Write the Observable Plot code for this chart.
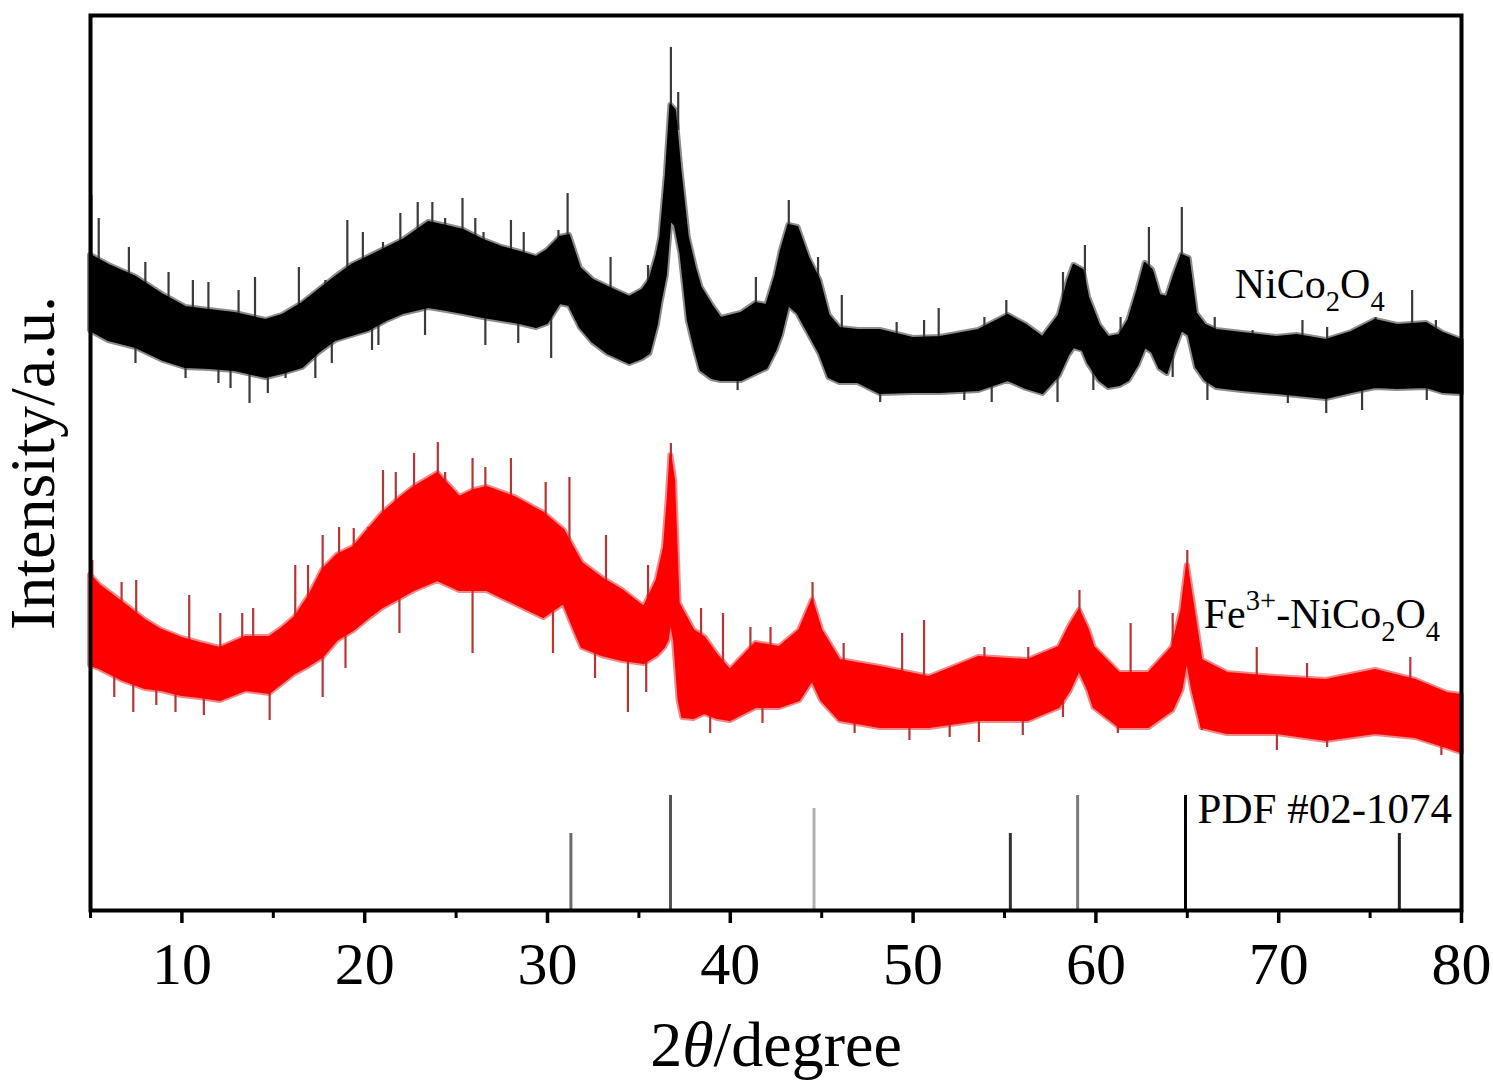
<!DOCTYPE html>
<html><head><meta charset="utf-8">
<script src="https://cdn.jsdelivr.net/npm/d3@7"></script>
<script src="https://cdn.jsdelivr.net/npm/@observablehq/plot@0.6"></script>
<style>body{margin:0;background:#fff}</style>
</head><body><div id="chart"></div>
<script>
// ---- NiCo2O4 (black) noise envelope, intensity in a.u. ----
const theta1 = [5.0,6.0,7.5,9.0,10.2,11.5,12.9,14.6,15.5,16.6,17.5,18.4,19.3,20.2,21.2,22.1,23.5,24.5,25.4,26.5,27.5,28.5,29.4,30.0,30.7,31.2,31.8,32.5,33.3,34.5,35.2,35.6,36.0,36.2,36.5,36.75,37.0,37.3,37.7,38.1,38.4,39.0,39.5,40.6,41.4,42.0,42.5,42.8,43.2,43.7,44.3,44.9,45.4,46.0,47.0,48.2,50.0,51.5,53.6,55.2,56.2,57.1,58.0,58.5,58.8,59.3,59.6,60.2,60.7,61.3,61.8,62.3,62.7,63.1,63.5,63.9,64.3,64.7,65.1,65.5,66.0,66.6,68.0,69.9,71.0,72.6,74.0,75.3,76.5,78.1,79.0,80.0];
const hi1 = [655,645,633,615,603,600,597,590,595,607,620,633,645,653,662,670,688,684,680,670,663,658,653,660,673,675,642,630,623,613,620,630,655,673,735,805,800,740,673,642,623,605,592,597,607,605,635,660,685,683,652,630,595,582,580,580,572,573,580,595,585,573,595,630,645,640,613,585,573,575,590,620,647,640,615,613,635,655,652,597,585,580,577,573,575,570,578,590,585,587,577,570];
const lo1 = [580,570,563,550,543,542,540,533,537,543,558,570,575,580,590,597,603,600,597,593,590,587,583,587,607,605,583,568,557,547,552,557,585,607,635,690,685,657,590,560,540,532,530,530,537,542,560,575,605,597,577,557,533,528,528,517,518,518,520,530,522,517,535,555,563,560,547,530,523,525,530,545,563,558,542,537,560,580,575,543,530,523,520,517,515,512,518,523,522,523,518,517];
// noise spikes: [theta, base, tip]
const spikes1 = [
  [5.05,620,715],[5.45,630,692],[7.1,610,663],[8.0,600,648],[9.27,590,638],[10.6,580,630],[11.45,580,628],
  [13.1,575,620],[14.0,570,633],[16.4,580,643],[17.85,600,630],[19.05,620,690],[19.9,630,678],[21.0,640,668],
  [21.95,645,697],[22.9,655,708],[23.7,665,708],[24.4,660,692],[25.35,655,712],[26.05,650,692],[26.5,645,678],
  [28.0,635,690],[28.7,630,678],[30.6,650,680],[31.1,650,717],[33.45,600,653],[35.5,605,645],[36.75,780,863],
  [37.15,780,818],[41.4,585,633],[43.2,665,710],[44.8,615,653],[46.1,560,615],[49.1,560,588],[50.6,555,590],
  [51.4,555,602],[53.9,560,593],[55.1,575,610],[58.2,600,638],[59.4,615,665],[61.35,560,593],[62.9,625,683],
  [64.7,635,703],[66.5,565,593],[68.57,560,580],[71.3,555,590],[72.65,555,583],[75.3,570,593],[77.3,570,620],
  [78.6,565,590],
  [7.46,570,547],[10.2,560,532],[12.0,555,527],[12.66,555,522],[13.7,555,507],[14.7,550,517],[15.67,555,532],
  [17.3,565,532],[18.2,580,547],[20.4,595,560],[20.75,600,565],[23.3,615,575],[26.6,605,565],[28.4,600,567],
  [30.2,600,552],[40.4,540,520],[48.2,530,508],[52.8,535,510],[54.3,535,508],[57.9,535,508],[59.86,560,520],
  [64.2,570,533],[66.1,540,510],[70.5,530,507],[72.6,525,497],[74.56,530,500],[78.1,535,510]
];

// ---- Fe3+-NiCo2O4 (red) noise envelope ----
const theta2 = [5.0,5.5,6.8,8.0,8.9,10.0,11.0,12.1,13.5,14.8,15.5,16.2,17.0,17.7,18.5,19.4,20.2,21.0,22.0,22.7,24.0,25.2,26.0,26.7,28.2,29.8,30.9,31.5,31.9,33.0,34.1,35.3,36.0,36.4,36.6,36.75,36.95,37.2,37.4,38.0,38.6,39.3,40.0,41.4,42.7,43.8,44.5,45.0,46.0,48.2,50.9,53.6,56.3,58.0,58.6,59.1,59.6,59.9,61.3,62.9,64.2,64.7,65.0,65.3,65.8,67.2,69.9,72.6,75.3,77.5,79.2,80.0];
const hi2 = [335,325,307,290,280,272,267,262,273,273,282,293,315,340,355,363,380,397,413,423,437,413,420,423,413,397,380,360,347,332,320,303,330,363,410,455,430,307,300,280,273,255,240,267,263,280,310,280,250,243,233,253,250,263,285,300,280,263,237,237,263,300,345,310,250,237,233,230,240,230,217,215];
const lo2 = [245,242,230,222,220,215,213,210,220,217,227,237,245,253,270,280,292,303,313,320,330,320,320,320,307,293,307,280,263,255,250,247,255,263,270,290,270,210,193,192,197,192,190,203,203,210,230,210,190,183,183,190,190,203,220,240,220,203,183,183,200,220,250,220,183,177,177,170,177,173,163,158];
const spikes2 = [
  [5.1,300,350],[6.7,290,328],[7.5,285,330],[10.4,255,315],[12.1,245,297],[13.3,250,297],[13.9,250,302],
  [16.2,285,345],[16.9,295,345],[17.7,320,375],[18.6,335,383],[19.4,340,382],[20.2,355,383],[21.0,375,440],
  [21.7,385,438],[22.7,395,457],[24.0,415,468],[24.4,410,438],[25.9,395,452],[26.6,395,443],[28.0,395,452],
  [29.9,375,428],[31.2,365,433],[33.2,310,375],[35.5,285,345],[36.75,440,467],[38.4,260,302],[39.6,245,297],
  [41.1,240,283],[42.2,240,283],[44.5,295,328],[46.2,225,267],[49.4,225,277],[50.6,220,290],[53.9,230,263],
  [56.3,230,263],[59.1,295,320],[61.9,220,287],[64.2,245,297],[65.0,335,360],[68.8,215,263],[71.55,210,247],
  [77.2,215,253],
  [6.3,235,213],[7.34,230,198],[8.6,228,205],[9.65,225,198],[11.2,220,195],[14.8,230,190],[17.7,260,213],
  [18.95,280,242],[21.9,325,277],[25.9,335,257],[30.3,300,257],[32.6,270,232],[34.4,255,198],[35.4,255,218],
  [37.4,225,193],[38.9,210,177],[41.76,215,187],[46.8,200,177],[49.8,200,170],[52.0,200,173],[53.6,200,168],
  [56.0,200,175],[58.2,215,193],[61.2,200,177],[65.8,200,180],[69.9,195,160],[72.65,185,163],[78.9,180,155]
];

// ---- PDF #02-1074 reference lines ----
const pdfTheta = [31.28,36.73,44.58,55.32,59.0,64.9,76.6];
const pdfIntensity = [77,115,102,77,115,115,77];
const pdfShade = ["#6a6a6a","#555555","#b0b0b0","#333333","#7a7a7a","#000000","#222222"];

const majorTicks = [10,20,30,40,50,60,70,80];
const minorTicks = [5,15,25,35,45,55,65,75];
const seriesNames = ["NiCo2O4","Fe3+-NiCo2O4","PDF #02-1074"];

const band1 = theta1.map((t,i)=>({t, hi:hi1[i], lo:lo1[i]}));
const band2 = theta2.map((t,i)=>({t, hi:hi2[i], lo:lo2[i]}));
const sp1 = spikes1.map(([t,b,e])=>({t,b,e}));
const sp2 = spikes2.map(([t,b,e])=>({t,b,e}));
const pdf = pdfTheta.map((t,i)=>({t, v:pdfIntensity[i], c:pdfShade[i]}));

const serif = "'Liberation Serif','Times New Roman',serif";

const chart = Plot.plot({
  width: 1493, height: 1084,
  marginLeft: 90, marginRight: 32, marginTop: 15, marginBottom: 174,
  style: {fontFamily: serif, background: "#fff", color: "#000"},
  x: {domain: [5, 80]},
  y: {domain: [0, 895], axis: null},
  marks: [
    // black series
    Plot.areaY(band1, {x:"t", y1:"lo", y2:"hi", fill:"#8c8c8c", stroke:"#8c8c8c", strokeWidth:6}),
    Plot.ruleX(sp1, {x:"t", y1:"b", y2:"e", stroke:"#3a3a3a", strokeWidth:2.2}),
    Plot.areaY(band1, {x:"t", y1:"lo", y2:"hi", fill:"#000", stroke:"#000", strokeWidth:2}),
    // red series
    Plot.areaY(band2, {x:"t", y1:"lo", y2:"hi", fill:"#f08a8a", stroke:"#f08a8a", strokeWidth:6}),
    Plot.ruleX(sp2, {x:"t", y1:"b", y2:"e", stroke:"#b83535", strokeWidth:2.2}),
    Plot.areaY(band2, {x:"t", y1:"lo", y2:"hi", fill:"#ff0000", stroke:"#ff0000", strokeWidth:2}),
    // reference sticks
    Plot.ruleX(pdf, {x:"t", y1:0, y2:"v", stroke:"c", strokeWidth:3}),
    // labels
    Plot.text([seriesNames[0]], {x:67.6, y:626, text:d=>d, textAnchor:"start", fontSize:42, className:"lbl-a"}),
    Plot.text([seriesNames[1]], {x:65.9, y:296, text:d=>d, textAnchor:"start", fontSize:42, className:"lbl-b"}),
    Plot.text([seriesNames[2]], {x:65.56, y:101, text:d=>d, textAnchor:"start", fontSize:43}),
    // axes
    Plot.frame({stroke:"#000", strokeWidth:4}),
    Plot.axisX(majorTicks, {tickSize:13, tickPadding:18, fontSize:60, strokeWidth:3.5, label:null, tickFormat:d=>String(d)}),
    Plot.axisX(minorTicks, {tickSize:8, strokeWidth:3, label:null, tickFormat:()=>""}),
    Plot.text(["2θ/degree"], {frameAnchor:"bottom", dy:135, lineAnchor:"middle", textAnchor:"middle", text:d=>d, fontSize:64, className:"xlab"}),
    Plot.text(["Intensity/a.u."], {frameAnchor:"left", dx:-57, rotate:-90, textAnchor:"middle", lineAnchor:"middle", text:d=>d, fontSize:64})
  ]
});
document.getElementById("chart").appendChild(chart);

// rich text: subscripts / superscripts / italic theta
function rich(sel, parts) {
  d3.select(chart).selectAll(sel + " text").each(function() {
    const t = d3.select(this);
    t.text(null);
    let shift = 0;
    for (const p of parts) {
      const ts = t.append("tspan").text(p.s);
      const target = p.sub ? 0.3 : p.sup ? -0.42 : 0;
      const d = target - shift;
      if (p.sub || p.sup) {
        ts.attr("font-size", "68%");
        if (d !== 0) ts.attr("dy", (d / 0.68).toFixed(3) + "em");
      } else if (d !== 0) {
        ts.attr("dy", d + "em");
      }
      if (p.it) ts.attr("font-style", "italic");
      shift = target;
    }
  });
}
rich(".lbl-a", [{s:"NiCo"},{s:"2",sub:true},{s:"O"},{s:"4",sub:true}]);
rich(".lbl-b", [{s:"Fe"},{s:"3+",sup:true},{s:"-NiCo"},{s:"2",sub:true},{s:"O"},{s:"4",sub:true}]);
rich(".xlab", [{s:"2"},{s:"θ",it:true},{s:"/degree"}]);
</script>
</body></html>
